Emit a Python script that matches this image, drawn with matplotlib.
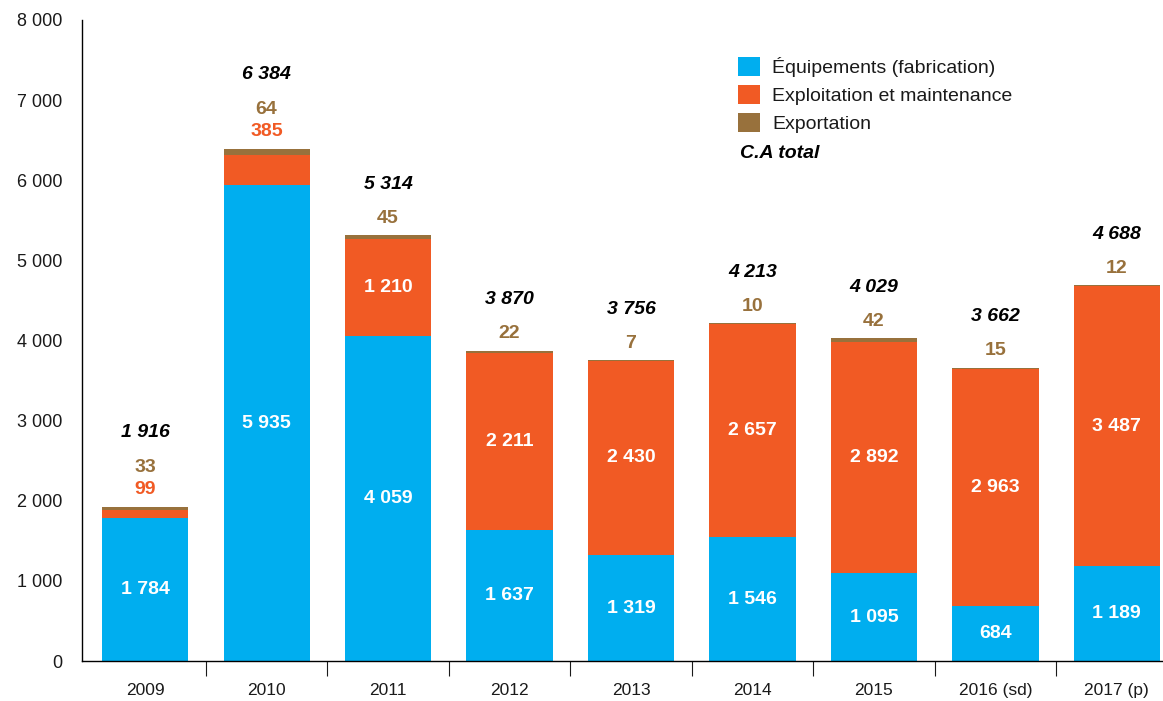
import numpy as np
import matplotlib.pyplot as plt
from matplotlib.ticker import FixedLocator

# --------- data --------- #
years = ["2009", "2010", "2011", "2012", "2013", "2014", "2015", "2016 (sd)", "2017 (p)"]
equipements = [1784, 5935, 4059, 1637, 1319, 1546, 1095, 684, 1189]
exploitation = [99, 385, 1210, 2211, 2430, 2657, 2892, 2963, 3487]
exportation = [33, 64, 45, 22, 7, 10, 42, 15, 12]
totals = [1916, 6384, 5314, 3870, 3756, 4213, 4029, 3662, 4688]

BLUE = "#00AEEF"
ORANGE = "#F15A24"
BROWN = "#98713C"
TXT = "#1a1a1a"

plt.rcParams["font.family"] = ["Liberation Sans", "DejaVu Sans"]


def fmt(v):
    return f"{v:,}".replace(",", " ")


fig = plt.figure(figsize=(11.63, 7.01), dpi=100)
ax = fig.add_axes([82 / 1163, 40 / 701, 1 - 82 / 1163, 641 / 701])

x = np.arange(len(years))
w = 0.71
eq = np.array(equipements)
ex = np.array(exploitation)
xp = np.array(exportation)

b1 = ax.bar(x, eq, w, color=BLUE, label="Équipements (fabrication)")
b2 = ax.bar(x, ex, w, bottom=eq, color=ORANGE, label="Exploitation et maintenance")
b3 = ax.bar(x, xp, w, bottom=eq + ex, color=BROWN, label="Exportation")

lab_kw = dict(ha="center", va="center", fontsize=14, fontweight="bold")
px = 0.72  # pixel -> points

for i in range(len(years)):
    top = eq[i] + ex[i] + xp[i]
    ax.text(x[i], eq[i] / 2, fmt(eq[i]), color="white", **lab_kw)
    if ex[i] > 500:
        ax.text(x[i], eq[i] + ex[i] / 2, fmt(ex[i]), color="white", **lab_kw)
        ax.annotate(fmt(xp[i]), (x[i], top), xytext=(0, 17 * px),
                    textcoords="offset points", color=BROWN, **lab_kw)
        ax.annotate(fmt(totals[i]), (x[i], top), xytext=(0, 51 * px),
                    textcoords="offset points", color="black", style="italic", **lab_kw)
    else:
        ax.annotate(fmt(ex[i]), (x[i], top), xytext=(0, 18 * px),
                    textcoords="offset points", color=ORANGE, **lab_kw)
        ax.annotate(fmt(xp[i]), (x[i], top), xytext=(0, 40 * px),
                    textcoords="offset points", color=BROWN, **lab_kw)
        ax.annotate(fmt(totals[i]), (x[i], top), xytext=(0, 75 * px),
                    textcoords="offset points", color="black", style="italic", **lab_kw)

ax.set_xlim(-0.52, 8.38)
ax.set_ylim(0, 8000)

ax.set_xticks(x)
ax.set_xticklabels(years, fontsize=12.5, color=TXT)
ax.tick_params(axis="x", which="major", length=0, pad=16)
ax.xaxis.set_minor_locator(FixedLocator(x[:-1] + 0.5))
ax.tick_params(axis="x", which="minor", length=11, width=0.8, color=TXT, direction="out")

ax.set_yticks(np.arange(0, 8001, 1000))
ax.set_yticklabels([fmt(v) for v in range(0, 8001, 1000)], fontsize=13, color=TXT)
ax.tick_params(axis="y", length=0, pad=14)

for s in ["top", "right"]:
    ax.spines[s].set_visible(False)
ax.spines["left"].set_linewidth(1)
ax.spines["bottom"].set_linewidth(1)

leg = ax.legend(handles=[b1, b2, b3], loc="upper left",
                bbox_to_anchor=(738 / 1163, 1 - 57 / 701), bbox_transform=fig.transFigure,
                frameon=False, fontsize=14, borderpad=0, borderaxespad=0,
                handlelength=1.15, handleheight=1.15, handletextpad=0.6, labelspacing=0.4)
for t in leg.get_texts():
    t.set_color(TXT)
fig.text(740 / 1163, 1 - 154 / 701, "C.A total", fontsize=14, fontweight="bold",
         style="italic", va="center", ha="left", color="black")

fig.savefig("out.png", dpi=100)
